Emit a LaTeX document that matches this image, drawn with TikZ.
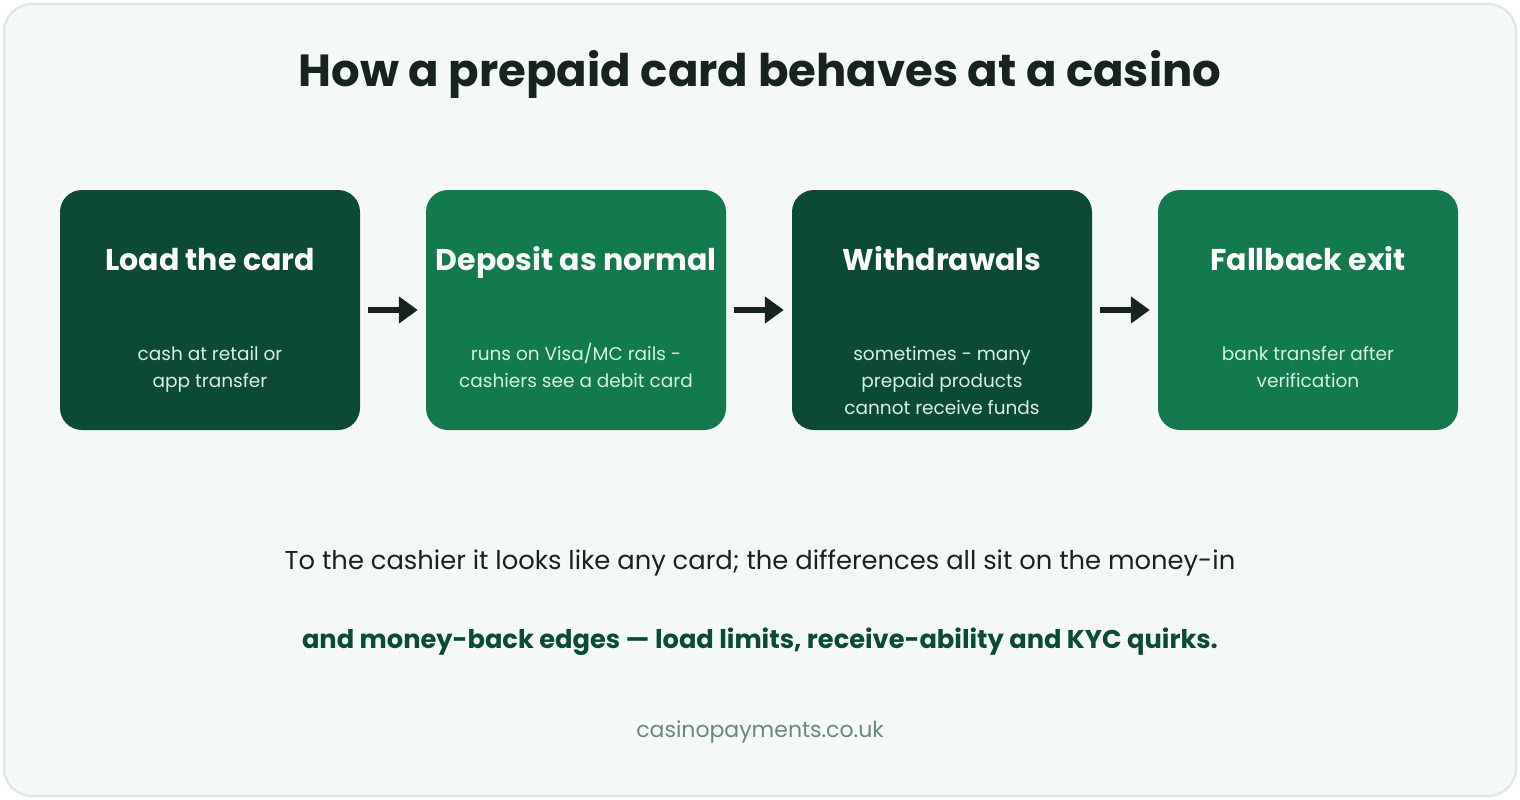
\documentclass[tikz,border=0pt]{standalone}
\usepackage{fontspec}
\setmainfont{Poppins}
\usetikzlibrary{arrows.meta}
\definecolor{bgc}{HTML}{F4F9F7}
\definecolor{framec}{HTML}{DCE8E2}
\definecolor{darkg}{HTML}{0B4B35}
\definecolor{lightg}{HTML}{127A4D}
\definecolor{subc}{HTML}{D6EFE2}
\definecolor{inkc}{HTML}{17231E}
\definecolor{footc}{HTML}{668A7B}
\tikzset{
  x=1pt,y=-1pt,
  card/.style={rounded corners=22pt, minimum width=300pt, minimum height=240pt, inner sep=0pt, draw=none},
  cardtitle/.style={text=white, font=\fontsize{30}{34}\selectfont\bfseries, anchor=base, inner sep=0pt},
  cardsub/.style={text=subc, font=\fontsize{18.5}{27}\selectfont, align=center, anchor=base, inner sep=0pt},
  flow/.style={-{Triangle[length=19pt,width=26pt]}, line width=6.5pt, draw=inkc},
}
\begin{document}
\begin{tikzpicture}
\useasboundingbox (0,0) rectangle (1520,800);
\draw[fill=bgc, draw=framec, line width=2.5pt, rounded corners=28pt] (4,4) rectangle (1516,796);
\node[text=inkc, font=\fontsize{45}{56}\selectfont\bfseries, anchor=base, inner sep=0pt] (title) at (760,86) {How a prepaid card behaves at a casino};
\node[card, fill=darkg] (c1) at (210,310) {};
\node[card, fill=lightg] (c2) at (576,310) {};
\node[card, fill=darkg] (c3) at (942,310) {};
\node[card, fill=lightg] (c4) at (1308,310) {};
\node[cardtitle] (t1) at (210,270) {Load the card};
\node[cardtitle] (t2) at (576,270) {Deposit as normal};
\node[cardtitle] (t3) at (942,270) {Withdrawals};
\node[cardtitle] (t4) at (1308,270) {Fallback exit};
\node[cardsub] (s1) at (210,387) {cash at retail or\\app transfer};
\node[cardsub] (s2) at (576,387) {runs on Visa/MC rails -\\cashiers see a debit card};
\node[cardsub] (s3) at (942,414) {sometimes - many\\prepaid products\\cannot receive funds};
\node[cardsub] (s4) at (1308,387) {bank transfer after\\verification};
\draw[flow] ([xshift=8pt]c1.east) -- ([xshift=-8pt]c2.west);
\draw[flow] ([xshift=8pt]c2.east) -- ([xshift=-8pt]c3.west);
\draw[flow] ([xshift=8pt]c3.east) -- ([xshift=-8pt]c4.west);
\node[text=inkc, font=\fontsize{25.8}{30}\selectfont, anchor=base, inner sep=0pt] (l1) at (760,569) {To the cashier it looks like any card; the differences all sit on the money-in};
\node[text=darkg, font=\fontsize{25.7}{30}\selectfont\bfseries, anchor=base, inner sep=0pt] (l2) at (760,648) {and money-back edges — load limits, receive-ability and KYC quirks.};
\node[text=footc, font=\fontsize{22}{26}\selectfont, anchor=base, inner sep=0pt] (foot) at (760,737) {casinopayments.co.uk};
\end{tikzpicture}
\end{document}
